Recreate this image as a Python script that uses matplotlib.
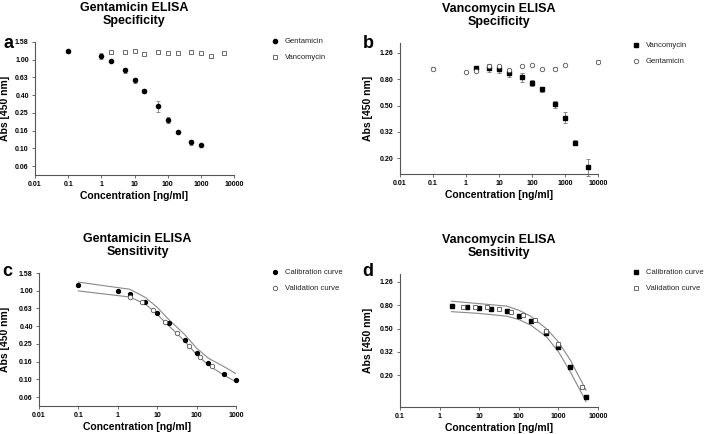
import matplotlib
matplotlib.use("Agg")
import matplotlib.pyplot as plt
import numpy as np

plt.rcParams['font.family'] = ['Liberation Sans', 'DejaVu Sans']

# ---- panel a: Gentamicin ELISA specificity
a_gen_x = [0.1, 1, 2, 5, 10, 20, 50, 100, 200, 500, 1000]
a_gen_y = [1.24, 1.11, 0.97, 0.76, 0.585, 0.443, 0.30, 0.21, 0.153, 0.117, 0.11]
a_gen_err = [0.05, 0.09, 0.03, 0.05, 0.04, 0.02, 0.04, 0.015, 0.004, 0.007, 0.003]
a_van_x = [2, 5, 10, 20, 50, 100, 200, 500, 1000, 2000, 5000]
a_van_y = [1.21, 1.21, 1.24, 1.16, 1.21, 1.19, 1.19, 1.21, 1.19, 1.09, 1.19]
a_van_err = [0.01, 0.01, 0.01, 0.04, 0.01, 0.01, 0.01, 0.03, 0.01, 0.04, 0.01]

# ---- panel b: Vancomycin ELISA specificity
b_van_x = [2, 5, 10, 20, 50, 100, 200, 500, 1000, 2000, 5000]
b_van_y = [0.96, 0.97, 0.945, 0.88, 0.82, 0.75, 0.667, 0.513, 0.406, 0.262, 0.172]
b_van_err = [0.05, 0.06, 0.06, 0.05, 0.06, 0.04, 0.03, 0.03, 0.04, 0.01, 0.025]
b_gen_x = [0.1, 1, 2, 5, 10, 20, 50, 100, 200, 500, 1000, 10000]
b_gen_y = [0.957, 0.90, 0.92, 1.01, 1.0, 0.93, 1.01, 1.02, 0.946, 0.957, 1.02, 1.08]
b_gen_err = [0.02, 0.005, 0.01, 0.02, 0.02, 0.02, 0.005, 0.005, 0.005, 0.02, 0.005, 0.03]

# ---- panel c: Gentamicin ELISA sensitivity
c_cal_x = [0.1, 1, 2, 5, 10, 20, 50, 100, 200, 500, 1000]
c_cal_y = [1.15, 1.0, 0.91, 0.75, 0.56, 0.43, 0.28, 0.20, 0.154, 0.115, 0.0995]
c_val_x = [2, 4, 8, 16, 31.25, 62.5, 125, 250]
c_val_y = [0.86, 0.745, 0.60, 0.445, 0.33, 0.24, 0.179, 0.142]
c_band_x = [0.1, 2, 5, 10, 20, 50, 100, 200, 500, 1000]
c_upper = [1.25, 1.04, 0.84, 0.65, 0.47, 0.32, 0.225, 0.173, 0.139, 0.116]
c_lower = [0.995, 0.85, 0.71, 0.54, 0.40, 0.27, 0.19, 0.145, 0.111, 0.094]

# ---- panel d: Vancomycin ELISA sensitivity
d_cal_x = [2, 5, 10, 20, 50, 100, 200, 500, 1000, 2000, 5000]
d_cal_y = [0.78, 0.76, 0.745, 0.744, 0.71, 0.645, 0.58, 0.46, 0.346, 0.237, 0.13]
d_val_x = [3.9, 7.8, 15.6, 31.25, 62.5, 125, 250, 500, 1000, 4000]
d_val_y = [0.77, 0.77, 0.76, 0.736, 0.70, 0.653, 0.59, 0.48, 0.37, 0.16]
d_band_x = [2, 10, 50, 100, 200, 500, 1000, 2000, 5000]
d_upper = [0.86, 0.82, 0.78, 0.72, 0.64, 0.50, 0.386, 0.27, 0.149]
d_lower = [0.70, 0.676, 0.64, 0.60, 0.537, 0.427, 0.318, 0.214, 0.119]

# ---- axis ticks
ac_yticks = [0.0631, 0.1, 0.158, 0.251, 0.398, 0.631, 1.0, 1.585]
ac_ylabels = ['0.06', '0.10', '0.16', '0.25', '0.40', '0.63', '1.00', '1.58']
bd_yticks = [0.1995, 0.3162, 0.5012, 0.7943, 1.2589]
bd_ylabels = ['0.20', '0.32', '0.50', '0.80', '1.26']
xticks_all = [0.01, 0.1, 1, 10, 100, 1000, 10000]
xlabels_all = ['0.01', '0.1', '1', '10', '100', '1000', '10000']

W, H = 709, 434
fig = plt.figure(figsize=(W / 100, H / 100), dpi=100)


def add_ax(left, top, right, bottom):
    return fig.add_axes([left / W, 1 - bottom / H, (right - left) / W, (bottom - top) / H])


ax_a = add_ax(35, 42, 234, 175)
ax_b = add_ax(400, 43, 598, 174)
ax_c = add_ax(39, 273, 236, 406)
ax_d = add_ax(400, 274, 598, 407)

spine_col = '#555555'
err_col = '#777777'
open_kw = dict(mfc='white', mec='#555555', mew=0.6, ms=3.2, linestyle='none', clip_on=False)


def style(ax, xlim, ylim, yticks, ylabels, title, ylab_x):
    ax.set_xscale('log')
    ax.set_yscale('log')
    ax.set_xlim(xlim)
    ax.set_ylim(ylim)
    ax.minorticks_off()
    xt = [t for t in xticks_all if xlim[0] <= t <= xlim[1]]
    xl = [l for t, l in zip(xticks_all, xlabels_all) if xlim[0] <= t <= xlim[1]]
    ax.set_xticks(xt)
    ax.set_xticklabels(xl)
    ax.set_yticks(yticks)
    ax.set_yticklabels(ylabels)
    for s in ['top', 'right']:
        ax.spines[s].set_visible(False)
    for s in ['left', 'bottom']:
        ax.spines[s].set_color(spine_col)
        ax.spines[s].set_linewidth(0.8)
    ax.tick_params(length=2.5, width=0.6, color=spine_col, labelsize=5, pad=2)
    for lab in ax.get_xticklabels() + ax.get_yticklabels():
        lab.set_fontweight('bold')
    ax.set_title(title, fontsize=9, fontweight='bold', pad=13, linespacing=1.1)
    ax.set_xlabel('Concentration [ng/ml]', fontsize=7.5, fontweight='bold')
    ax.set_ylabel('Abs [450 nm]', fontsize=7.5, fontweight='bold')
    ax.xaxis.set_label_coords(0.5, -0.12)
    ax.yaxis.set_label_coords(ylab_x, 0.5)


def leg(ax, x, y):
    ax.legend(loc='upper left', bbox_to_anchor=(x / W, 1 - y / H), bbox_transform=fig.transFigure,
              frameon=False, fontsize=5.5, handlelength=1.0, handletextpad=0.8,
              labelspacing=1.15, borderpad=0, borderaxespad=0, labelcolor='#222222')


def errs(ax, x, y, e):
    ax.errorbar(x, y, yerr=e, fmt='none', ecolor=err_col, elinewidth=0.6,
                capsize=1.5, capthick=0.6, clip_on=False)


# panel a
errs(ax_a, a_gen_x, a_gen_y, a_gen_err)
errs(ax_a, a_van_x, a_van_y, a_van_err)
ax_a.plot(a_gen_x, a_gen_y, 'o', color='black', ms=3, clip_on=False, label='Gentamicin')
ax_a.plot(a_van_x, a_van_y, 's', label='Vancomycin', **open_kw)
style(ax_a, (0.01, 10000), (0.0501, 1.585), ac_yticks, ac_ylabels, 'Gentamicin ELISA\nSpecificity', -0.126)
leg(ax_a, 271, 38)

# panel b
errs(ax_b, b_van_x, b_van_y, b_van_err)
errs(ax_b, b_gen_x, b_gen_y, b_gen_err)
ax_b.plot(b_van_x, b_van_y, 's', color='black', ms=3.2, clip_on=False, label='Vancomycin')
ax_b.plot(b_gen_x, b_gen_y, 'o', label='Gentamicin', **open_kw)
style(ax_b, (0.01, 10000), (0.151, 1.5), bd_yticks, bd_ylabels, 'Vancomycin ELISA\nSpecificity', -0.136)
leg(ax_b, 632, 42)

# panel c
ax_c.plot(c_band_x, c_upper, color='#888888', lw=0.8)
ax_c.plot(c_band_x, c_lower, color='#888888', lw=0.8)
ax_c.plot(c_cal_x, c_cal_y, 'o', color='black', ms=2.8, clip_on=False, label='Calibration curve')
ax_c.plot(c_val_x, c_val_y, 'o', label='Validation curve', **open_kw)
style(ax_c, (0.01, 1000), (0.0501, 1.585), ac_yticks, ac_ylabels, 'Gentamicin ELISA\nSensitivity', -0.147)
leg(ax_c, 271, 269)

# panel d
ax_d.plot(d_band_x, d_upper, color='#888888', lw=0.8)
ax_d.plot(d_band_x, d_lower, color='#888888', lw=0.8)
ax_d.plot(d_cal_x, d_cal_y, 's', color='black', ms=2.8, clip_on=False, label='Calibration curve')
ax_d.plot(d_val_x, d_val_y, 's', label='Validation curve', **open_kw)
style(ax_d, (0.1, 10000), (0.107, 1.47), bd_yticks, bd_ylabels, 'Vancomycin ELISA\nSensitivity', -0.136)
leg(ax_d, 632, 269)

# panel letters
for letter, px, py in [('a', 8, 43), ('b', 368, 43), ('c', 7.5, 272), ('d', 368, 271)]:
    fig.text(px / W, 1 - py / H, letter, fontsize=13, fontweight='bold', ha='center', va='center')

fig.savefig('out.png', dpi=100)
